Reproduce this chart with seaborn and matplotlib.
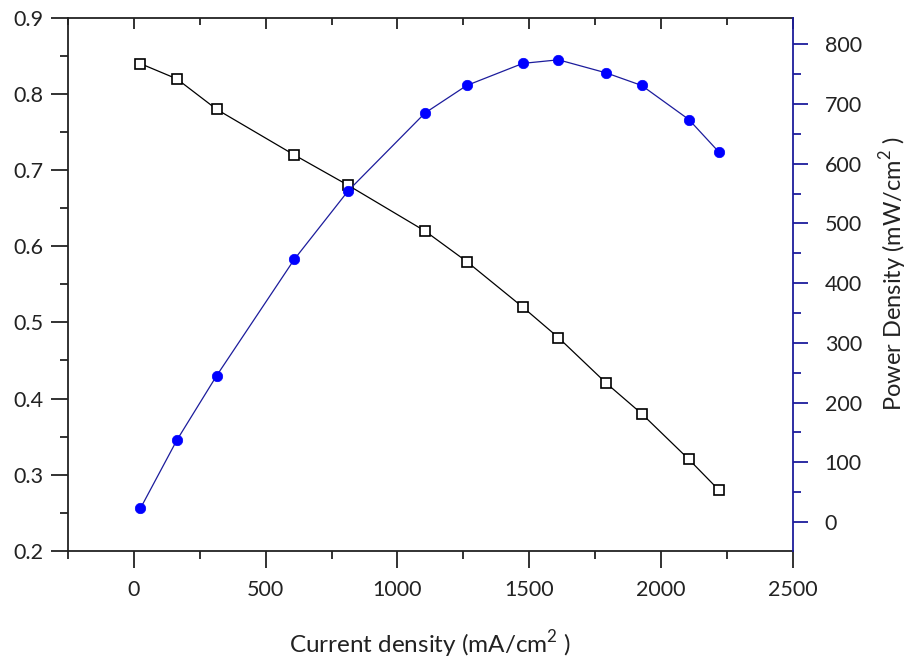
import numpy as np
import pandas as pd
import matplotlib
matplotlib.use("Agg")
import matplotlib.pyplot as plt
import seaborn as sns
from matplotlib.ticker import MultipleLocator

current_density = [25, 163, 314, 609, 814, 1105, 1263, 1476, 1611, 1793, 1927, 2106, 2219]
voltage = [0.84, 0.82, 0.78, 0.72, 0.68, 0.62, 0.58, 0.52, 0.48, 0.42, 0.38, 0.32, 0.28]
power_density = [23, 137, 245, 440, 555, 685, 731, 768, 774, 752, 731, 674, 620]

x_ticks = [0, 500, 1000, 1500, 2000, 2500]
left_ticks = [0.2, 0.3, 0.4, 0.5, 0.6, 0.7, 0.8, 0.9]
right_ticks = [0, 100, 200, 300, 400, 500, 600, 700, 800]

sns.set_theme(style="white")
plt.rcParams['font.family'] = ['Lato', 'DejaVu Sans']
plt.rcParams['mathtext.fontset'] = 'custom'
plt.rcParams['mathtext.rm'] = 'Lato'

df = pd.DataFrame({"j": current_density, "V": voltage, "P": power_density})

fig = plt.figure(figsize=(9.13, 6.62), dpi=100)
ax = fig.add_axes([68/913, (662-550.7)/662, (792.7-68)/913, (550.7-18)/662])
ax2 = ax.twinx()

navy = "#1c1c9c"
txt = "#222222"

sns.lineplot(data=df, x="j", y="V", ax=ax, sort=False, color="black", linewidth=0.9,
             marker="s", markersize=6.8, markerfacecolor="white", markeredgecolor="black",
             markeredgewidth=1.2)
sns.lineplot(data=df, x="j", y="P", ax=ax2, sort=False, color=navy, linewidth=0.9,
             marker="o", markersize=7.5, markerfacecolor="#0000ff", markeredgecolor="#0000ff",
             markeredgewidth=0.5)

ax.set_xlim(-250, 2500)
ax.set_ylim(0.2, 0.9)
ax2.set_ylim(-48, 844)

ax.set_xticks(x_ticks)
ax.set_yticks(left_ticks)
ax2.set_yticks(right_ticks)
ax.set_xticklabels([str(v) for v in x_ticks])
ax.set_yticklabels([f"{v:.1f}" for v in left_ticks])
ax2.set_yticklabels([str(v) for v in right_ticks])
ax.xaxis.set_minor_locator(MultipleLocator(250))
ax.yaxis.set_minor_locator(MultipleLocator(0.05))
ax2.yaxis.set_minor_locator(MultipleLocator(50))

for s in ["left", "bottom", "top"]:
    ax.spines[s].set_color("#222222")
    ax.spines[s].set_linewidth(1.3)
for s in ["left", "bottom", "top"]:
    ax2.spines[s].set_visible(False)
ax.spines["right"].set_visible(False)
ax2.spines["right"].set_color(navy)
ax2.spines["right"].set_linewidth(1.3)

ax.tick_params(axis="x", which="major", direction="out", length=12, width=1.3, color="#222222",
               labelsize=15.5, labelcolor=txt, pad=9, bottom=True, top=False)
ax.tick_params(axis="x", which="minor", direction="out", length=6, width=1.3, color="#222222",
               bottom=True, top=False)
ax.tick_params(axis="y", which="major", direction="out", length=12, width=1.3, color="#222222",
               labelsize=15.5, labelcolor=txt, pad=6, left=True, right=False)
ax.tick_params(axis="y", which="minor", direction="out", length=6, width=1.3, color="#222222",
               left=True, right=False)
ax2.tick_params(axis="y", which="major", direction="out", length=11, width=1.3, color=navy,
                labelsize=15.5, labelcolor=txt, pad=12, right=True, left=False)
ax2.tick_params(axis="y", which="minor", direction="out", length=6, width=1.3, color=navy,
                right=True, left=False)

# inward ticks on top spine
ax_top = ax.secondary_xaxis("top")
ax_top.set_xticks(x_ticks)
ax_top.xaxis.set_minor_locator(MultipleLocator(250))
ax_top.tick_params(axis="x", which="major", direction="in", length=8, width=1.3, color="#222222",
                   labeltop=False)
ax_top.tick_params(axis="x", which="minor", direction="in", length=5, width=1.3, color="#222222")
ax_top.spines["top"].set_visible(False)

ax.set_xlabel("Current density (mA/cm$^{2}$ )", fontsize=17.5, color=txt, labelpad=20)
ax.set_ylabel("")
ax2.set_ylabel("Power Density (mW/cm$^{2}$ )", fontsize=17, color=txt, labelpad=11)
ax2.yaxis.label.set_y(0.52)
ax.grid(False)
ax2.grid(False)

fig.savefig("out.png", dpi=100, facecolor="white")
